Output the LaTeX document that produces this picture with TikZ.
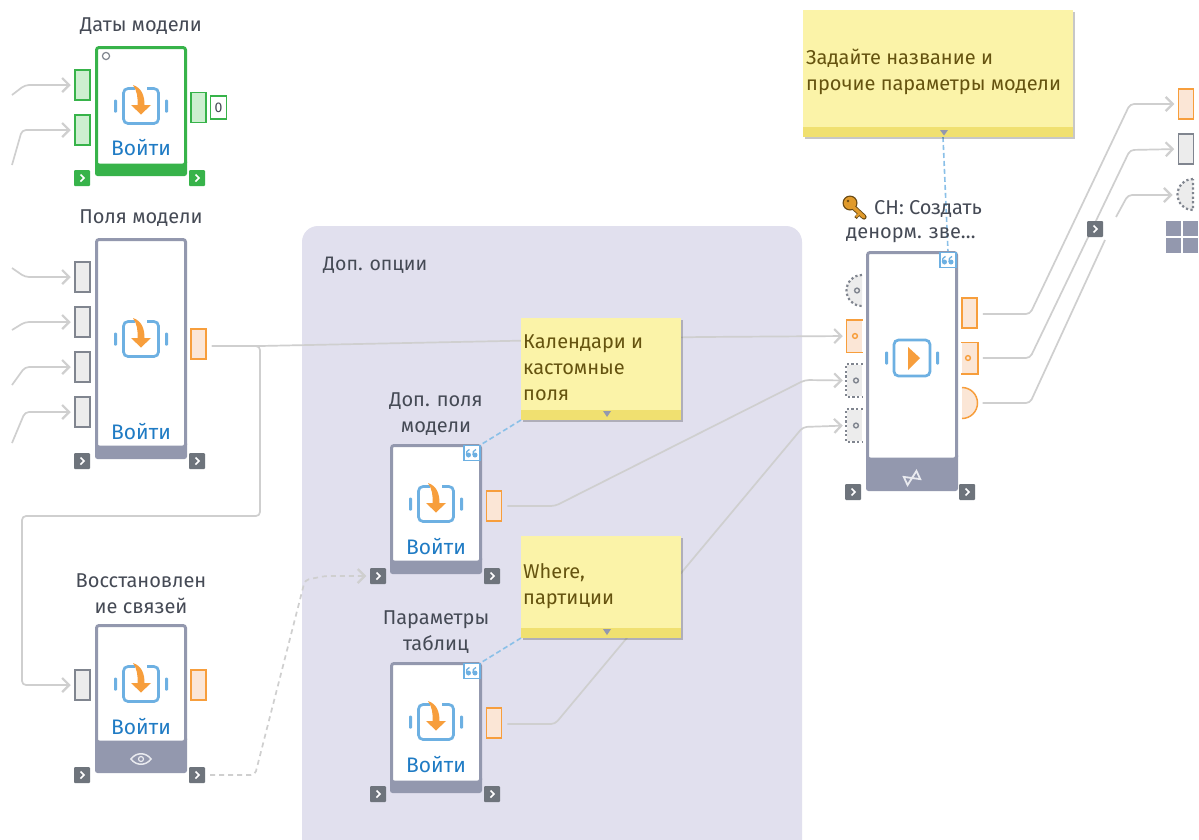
\documentclass[tikz,border=0pt]{standalone}
\usepackage{fontspec}
\setmainfont{Fira Sans}
\usetikzlibrary{arrows.meta,calc,shadows}
\pgfdeclarelayer{bglayer}\pgfdeclarelayer{connlayer}
\pgfsetlayers{bglayer,connlayer,main}
\definecolor{blockgray}{HTML}{9398AE}
\definecolor{flowgreen}{HTML}{37B34A}
\definecolor{greenfill}{HTML}{CDEFD0}
\definecolor{orangeline}{HTML}{F79E3C}
\definecolor{orangefill}{HTML}{FBE6D6}
\definecolor{grayfill}{HTML}{ECECEC}
\definecolor{grayline}{HTML}{80858F}
\definecolor{chevgray}{HTML}{6E747C}
\definecolor{iconblue}{HTML}{6DB0E2}
\definecolor{linkblue}{HTML}{1F7BC4}
\definecolor{notefill}{HTML}{FBF3A8}
\definecolor{notefoot}{HTML}{F0E070}
\definecolor{notetext}{HTML}{65530F}
\definecolor{groupfill}{HTML}{E1E0EE}
\definecolor{connline}{HTML}{CFCFCF}
\definecolor{labeltext}{HTML}{454A55}
\definecolor{keygold}{HTML}{E09A2B}
\definecolor{keydark}{HTML}{6A4A14}
\tikzset{
  x=1pt,y=-1pt,
  label/.style={font=\fontsize{20}{26}\selectfont,text=labeltext,align=center,inner sep=0},
  enter/.style={font=\fontsize{21}{22}\selectfont,text=linkblue,inner sep=0},
  port/.style={minimum width=15pt,minimum height=30pt,inner sep=0,line width=1.5pt},
  gport/.style={port,draw=flowgreen,fill=greenfill},
  oport/.style={port,draw=orangeline,fill=orangefill},
  sport/.style={port,draw=grayline,fill=grayfill},
  bareport/.style={port,fill=#1},
  dotline/.style={draw=grayline,line width=2.2pt,dash pattern=on 2.2pt off 2.4pt},
  chev/.style={minimum size=16pt,inner sep=0,fill=#1,rounded corners=1pt},
  conn/.style={draw=connline,line width=1.7pt,rounded corners=4pt,shorten <=5pt},
  arr/.style={conn,-{Straight Barb[length=7pt,width=14pt,line width=2.2pt]},shorten >=3.5pt},
  notelink/.style={draw=iconblue!80!white,line width=1.6pt,dash pattern=on 5pt off 3pt},
  note/.style={fill=notefill,inner sep=0,outer sep=0,anchor=north west,drop shadow={shadow xshift=1.5pt,shadow yshift=-1.5pt,fill=black,opacity=.22}},
  notetxt/.style={font=\fontsize{20}{26}\selectfont,text=notetext,align=left,anchor=west,inner sep=0},
}
% name, left, top, bottom, footer top, colour
\newcommand{\flowblock}[6]{%
  \fill[#6,rounded corners=2.5pt] (#2,#5-6) rectangle (#2+92,#4);
  \node[draw=#6,fill=white,line width=3pt,rounded corners=2.5pt,inner sep=0,outer sep=0,anchor=north west,
        minimum width=89pt,minimum height={(#5-#3-1.5)*1pt}] (#1) at (#2+1.5,#3+1.5) {};
  \fill[#6] (#2,#5) rectangle (#2+92,#5+4);
}
\newcommand{\chevron}[4]{% name, x, y, colour
  \node[chev=#4] (#1) at (#2,#3) {};
  \draw[white,line width=1.6pt] ($(#1)+(-1.5,-3.5)$) -- ($(#1)+(2,0)$) -- ($(#1)+(-1.5,3.5)$);
}
\newcommand{\sidebars}[2]{%
  \fill[iconblue,rounded corners=1pt] (#1-27,#2-6.5) rectangle (#1-24,#2+6.5);
  \fill[iconblue,rounded corners=1pt] (#1+24,#2-6.5) rectangle (#1+27,#2+6.5);
}
\newcommand{\entericon}[2]{%
  \begin{scope}[shift={(#1,#2)}]
    \draw[iconblue,line width=2.7pt,rounded corners=4.5pt] (-6,-17.5) -- (-17.5,-17.5) -- (-17.5,17.5) -- (17.5,17.5) -- (17.5,-17.5) -- (6,-17.5);
    \fill[orangeline] (-8,-21) .. controls (1,-18) and (3.5,-10) .. (3.5,-1) -- (10,-1) -- (0,8.5) -- (-10,-1) -- (-3.5,-1) .. controls (-3,-9) and (-4,-15) .. (-8,-21) -- cycle;
  \end{scope}
  \sidebars{#1}{#2}
}
\newcommand{\badge}[3]{% name x y
  \node[draw=iconblue,fill=white,line width=1.5pt,minimum width=16pt,minimum height=15pt,inner sep=0] (#1) at (#2,#3) {};
  \foreach \dx in {-3.5,3}{
    \fill[iconblue] (#2+\dx,#3+2) circle (2.5);
    \draw[iconblue,line width=1.3pt] (#2+\dx-2,#3+2) .. controls (#2+\dx-2,#3-1.5) .. (#2+\dx+1,#3-3.5);
  }
}
\begin{document}
\begin{tikzpicture}
\useasboundingbox (0,0) rectangle (1199,839);
\begin{pgfonlayer}{bglayer}
  \fill[white] (0,0) rectangle (1199,839);
  \begin{scope}
    \clip (0,0) rectangle (1199,839);
    \node[fill=groupfill,rounded corners=16pt,minimum width=500pt,minimum height=650pt,inner sep=0,outer sep=0,anchor=north west] (grp) at (302,226) {};
  \end{scope}
\end{pgfonlayer}
\node[font=\fontsize{19.5}{22}\selectfont,text=labeltext,anchor=west,inner sep=0] (grptitle) at (323,265) {Доп. опции};

% ---- Даты модели
\node[label] (l1) at (141,26) {Даты модели};
\flowblock{b1}{95}{46}{176}{165}{flowgreen}
\fill[white,draw=grayline,line width=1.2pt] (106,56) circle (3.6);
\entericon{141}{106}
\node[enter] (e1) at (141,148) {Войти};
\node[gport] (b1i1) at (82.5,85) {};
\node[gport] (b1i2) at (82.5,130) {};
\node[gport] (b1o) at (198.5,107.5) {};
\node[draw=flowgreen,line width=1.3pt,fill=white,minimum width=16pt,minimum height=23pt,inner sep=0,font=\fontsize{14}{14}\selectfont,text=labeltext] (b1z) at (218.5,107.5) {0};
\chevron{c1a}{82}{178}{flowgreen}
\chevron{c1b}{197}{178}{flowgreen}

% ---- Поля модели
\node[label] (l2) at (141,218) {Поля модели};
\flowblock{b2}{95}{238}{459}{447}{blockgray}
\entericon{141}{339}
\node[enter] (e2) at (141,431) {Войти};
\node[sport] (b2i1) at (82.5,277) {};
\node[sport] (b2i2) at (82.5,322) {};
\node[sport] (b2i3) at (82.5,367) {};
\node[sport] (b2i4) at (82.5,412) {};
\node[oport] (b2o) at (198.5,344) {};
\chevron{c2a}{82}{461}{chevgray}
\chevron{c2b}{197}{461}{chevgray}

% ---- Восстановление
\node[label] (l3) at (141,594) {Восстановлен\\ие связей};
\flowblock{b3}{95}{624}{773}{742}{blockgray}
\entericon{141}{684}
\node[enter] (e3) at (141,726) {Войти};
\draw[white!80!blockgray,line width=1.5pt] (131,759) .. controls (136,752) and (146,752) .. (151,759) .. controls (146,766) and (136,766) .. (131,759) -- cycle;
\draw[white!80!blockgray,line width=1.2pt] (141,759) circle (2.5);
\node[sport] (b3i) at (82.5,685) {};
\node[oport] (b3o) at (198.5,685) {};
\chevron{c3a}{82}{775}{chevgray}
\chevron{c3b}{197}{775}{chevgray}

% ---- Доп. поля модели
\node[label] (l4) at (436,414) {Доп. поля\\модели};
\flowblock{b4}{390}{444}{574}{562}{blockgray}
\badge{q4}{472}{453}
\entericon{436}{504}
\node[enter] (e4) at (436,546) {Войти};
\node[oport] (b4o) at (494,506) {};
\chevron{c4a}{378}{576}{chevgray}
\chevron{c4b}{492}{576}{chevgray}

% ---- Параметры таблиц
\node[label] (l5) at (436,632) {Параметры\\таблиц};
\flowblock{b5}{390}{662}{793}{782}{blockgray}
\badge{q5}{472}{671}
\entericon{436}{722}
\node[enter] (e5) at (436,764) {Войти};
\node[oport] (b5o) at (494,723) {};
\chevron{c5a}{378}{794}{chevgray}
\chevron{c5b}{492}{794}{chevgray}

% ---- СН
\node[label,anchor=west] (l6a) at (874,209) {СН: Создать};
\node[label,anchor=west] (l6b) at (846,235) {денорм. зве…};
\draw[keydark,line width=5.2pt,line cap=round] (851,205) -- (864,217);
\draw[keydark,line width=3pt] (859,214) -- (855.5,218);
\fill[keydark] (850,203) circle (7.5);
\fill[keygold] (850,203) circle (6.2);
\draw[keygold,line width=3.4pt,line cap=round] (851,205) -- (864,217);
\draw[keygold,line width=1.8pt] (859,214) -- (856,217);
\fill[keydark] (848,201) circle (1.3);
\flowblock{b6}{866}{251}{491}{459}{blockgray}
\badge{q6}{948}{260}
\draw[iconblue,line width=2.7pt,rounded corners=4.5pt] (894,340) rectangle (930,376);
\fill[orangeline] (908,347) -- (920,358) -- (908,370) -- cycle;
\sidebars{912}{358}
\begin{scope}[shift={(912,478)},rotate=25]
  \draw[white!80!blockgray,line width=1.8pt] (-7,-4.5) -- (7,4.5) -- (7,-4.5) -- (-7,4.5) -- cycle;
\end{scope}
\chevron{c6a}{853}{492}{chevgray}
\chevron{c6b}{967}{492}{chevgray}
% inputs of СН
\node[minimum width=15pt,minimum height=31pt,inner sep=0] (p1) at (854.5,290.5) {};
\fill[grayfill] (862,275) arc (270:90:15.5) -- cycle;
\draw[dotline] (862,275) arc (270:90:15.5);
\draw[grayline,line width=1.4pt] (857,290.5) circle (2.4);
\node[bareport=orangefill,minimum height=31pt] (p2) at (854.5,336) {};
\draw[orangeline,line width=1.5pt] (p2.north east) -- (p2.north west) -- (p2.south west) -- (p2.south east);
\draw[orangeline,line width=1.4pt] (855,336) circle (2.4);
\node[bareport=grayfill,minimum height=31pt] (p3) at (854.5,380.5) {};
\draw[dotline] (p3.north east) -- (p3.north west) -- (p3.south west) -- (p3.south east);
\draw[grayline,line width=1.4pt] (856,380.5) circle (2.4);
\node[bareport=grayfill,minimum height=31pt] (p4) at (854.5,425.5) {};
\draw[dotline] (p4.north east) -- (p4.north west) -- (p4.south west) -- (p4.south east);
\draw[grayline,line width=1.4pt] (856,425.5) circle (2.4);
% outputs of СН
\node[oport] (o1) at (969.5,313) {};
\node[bareport=orangefill] (o2) at (969.5,358) {};
\draw[orangeline,line width=1.5pt] (o2.north west) -- (o2.north east) -- (o2.south east) -- (o2.south west);
\draw[orangeline,line width=1.4pt] (968,358) circle (2.4);
\fill[orangefill] (962,387.5) arc (-90:90:15.5 and 15.5) -- cycle;
\draw[orangeline,line width=1.5pt] (962,387.5) arc (-90:90:15.5 and 15.5);
\coordinate (o3) at (977.5,403);

% ---- right column
\node[oport] (r1) at (1186,104) {};
\node[sport] (r2) at (1186,149) {};
\coordinate (r3) at (1176,195);
\fill[grayfill] (1193,179) arc (270:90:15.5) -- cycle;
\draw[dotline] (1193,179) arc (270:90:15.5) -- cycle;
\foreach \gx/\gy in {1166/221,1183/221,1166/237.5,1183/237.5}
  \fill[blockgray] (\gx,\gy) rectangle (\gx+15,\gy+15);
\chevron{c7}{1095}{229}{chevgray}

% ---- notes
\node[note,minimum width=270pt,minimum height=127pt] (n1) at (803,10) {};
\fill[notefoot] (803,127) rectangle (1073,137);
\fill[blockgray] (940,130) -- (948,130) -- (944,135.5) -- cycle;
\node[notetxt] (t1) at (806,72) {Задайте название и\\прочие параметры модели};
\coordinate (n1s) at (943,137);

\node[note,minimum width=160pt,minimum height=102pt] (n2) at (521,318) {};
\fill[notefoot] (521,410) rectangle (681,420);
\fill[blockgray] (603,411) -- (611,411) -- (607,417) -- cycle;
\node[notetxt] (t2) at (523,368) {Календари и\\кастомные\\поля};

\node[note,minimum width=160pt,minimum height=102pt] (n3) at (521,536) {};
\fill[notefoot] (521,628) rectangle (681,638);
\fill[blockgray] (603,629) -- (611,629) -- (607,635) -- cycle;
\node[notetxt] (t3) at (523,586) {Where,\\партиции};

% ---- connectors
\begin{pgfonlayer}{connlayer}
  \coordinate (s1) at (12,95);   \coordinate (s2) at (12,165);
  \coordinate (s3) at (12,268);  \coordinate (s4) at (12,330);
  \coordinate (s5) at (12,385);  \coordinate (s6) at (12,443);
  \draw[arr,shorten <=0pt] (s1) -- (25,85) -- (b1i1.west);
  \draw[arr,shorten <=0pt] (s2) -- (22,130) -- (b1i2.west);
  \draw[arr,shorten <=0pt] (s3) -- (25,277) -- (b2i1.west);
  \draw[arr,shorten <=0pt] (s4) -- (25,322) -- (b2i2.west);
  \draw[arr,shorten <=0pt] (s5) -- (25,367) -- (b2i3.west);
  \draw[arr,shorten <=0pt] (s6) -- (25,412) -- (b2i4.west);
  \draw[arr] (b2o.east) ++(0,2) -- (260,346) -- (700,337) -- (p2.west);
  \draw[arr] (b2o.east) ++(0,2) -- (260,346) -- (260,516) -- (22,516) -- (22,685) -- (b3i.west);
  \draw[arr,dash pattern=on 5pt off 4pt] (c3b.east) -- (255,775) -- (305,580) -- (325,576) -- (c4a.west);
  \draw[arr] (b4o.east) -- (555,506) -- (805,380) -- (p3.west);
  \draw[arr] (b5o.east) ++(0,1) -- (555,724) -- (803,427) -- (p4.west);
  \draw[arr] (o1.east) ++(0,1) -- (1030,314) -- (1130,104) -- (r1.west);
  \draw[arr] (o2.east) -- (1030,358) -- (1130,150) -- (r2.west);
  \coordinate (g1) at (1105,240); \coordinate (g2) at (1116,217);
  \draw[conn] (o3) -- (1030,403) -- (g1);
  \draw[arr,shorten <=0pt] (g2) -- (1128,195) -- (r3);
  \draw[notelink] (n1s) -- (q6.north);
  \draw[notelink] (n2.south west) -- (q4.north east);
  \draw[notelink] (n3.south west) -- (q5.north east);
\end{pgfonlayer}
\end{tikzpicture}
\end{document}
